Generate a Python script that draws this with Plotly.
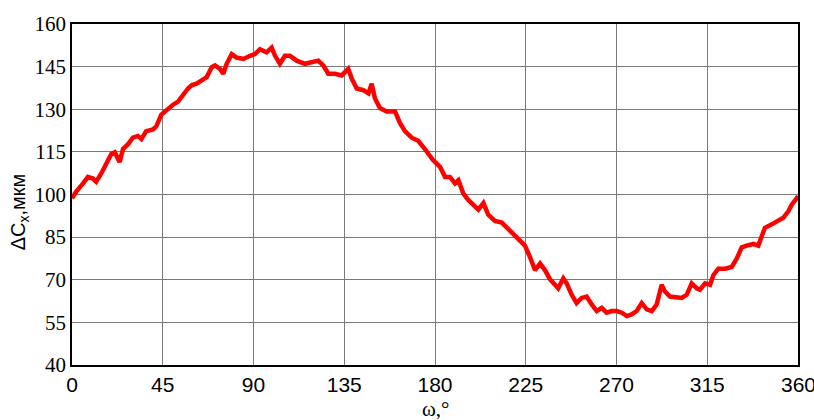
import plotly.graph_objects as go

omega_deg = [0, 2.1, 5.5, 7.9, 10.4, 12, 14.5, 17, 19.5, 21.2, 23.6, 25.3, 27.8, 30.2, 32.7, 34.4,
             36.8, 40.2, 41.8, 44.3, 46.8, 50.1, 52.6, 55, 57.5, 59.5, 61.8, 64.3, 66.8, 69.3, 70.9,
             73.4, 75, 76.7, 79.2, 81.6, 85, 88.3, 90.7, 93.2, 96.5, 99, 100.7, 103.1, 105.6, 108.1,
             111.4, 115.5, 118, 122.1, 124.6, 127.1, 130.4, 133.7, 137, 138.7, 141.2, 144.5, 147,
             148.6, 150.2, 152.7, 156, 160.2, 162.6, 165.1, 168.4, 171.7, 175, 178.8, 182.5, 185,
             187.4, 189.9, 191.6, 194, 196.5, 199, 201.5, 204, 206.4, 209.7, 213.1, 216.4, 219.7,
             222.1, 224.6, 227.1, 229.6, 232.1, 234.5, 237, 239.5, 241.1, 243.6, 245.3, 247.8,
             250.2, 252.7, 255.2, 257.7, 260.2, 262.7, 265.1, 267.6, 270.1, 272.6, 275.1, 277.5,
             280, 282.5, 285, 287.5, 289.9, 292.4, 294, 296.5, 299.8, 302.3, 304.8, 307.3, 309.8,
             311.4, 313.9, 316.4, 318, 320.5, 323.8, 327.1, 329.6, 332.1, 334.6, 337.8, 340.3, 342,
             343.6, 347, 350.2, 352.7, 355.2, 356.9, 359.4, 360]
delta_cx = [98.7, 101.0, 103.9, 106.2, 105.6, 104.5, 107.4, 110.8, 114.3, 114.9, 111.4, 116, 117.7,
            120, 120.6, 119.5, 122.3, 122.9, 124, 128.1, 129.8, 131.6, 132.7, 135, 137.3, 138.5,
            139, 140.2, 141.3, 144.8, 145.4, 144.2, 142.5, 146, 149.4, 148.2, 147.7, 148.8, 149.4,
            151.1, 150, 151.7, 148.8, 146, 148.8, 148.8, 147.1, 146, 146.5, 147.1, 145.4, 142.5,
            142.5, 141.9, 144.2, 140.8, 137.3, 136.7, 135.6, 139, 133.9, 130.4, 129.2, 129.2,
            125.2, 122.3, 120, 118.9, 116, 112.3, 109.7, 106.2, 106.2, 103.9, 105, 100.4, 98.1,
            96.4, 94.7, 97, 92.9, 90.7, 90.1, 87.8, 85.5, 83.7, 82, 78, 73.4, 75.7, 73.4, 70.2,
            68.2, 67, 70.5, 68.7, 64.7, 61.8, 63.6, 64.1, 61.3, 59, 60.1, 58.4, 59, 59, 58.4, 57.2,
            57.8, 59, 61.8, 59.6, 59, 61.3, 68.2, 65.9, 64.1, 63.6, 63.6, 64.7, 68.7, 67, 66.5,
            68.7, 68.2, 71.6, 73.9, 73.9, 74.5, 77.4, 81.4, 82, 82.6, 82, 85.5, 88.3, 89.5, 90.7,
            91.8, 94.1, 96.4, 98.7, 99.5]

x_ticks = [0, 45, 90, 135, 180, 225, 270, 315, 360]
y_ticks = [40, 55, 70, 85, 100, 115, 130, 145, 160]

SANS = "Liberation Sans, Arial, sans-serif"
SERIF = "Times New Roman, Liberation Serif, serif"

fig = go.Figure()
fig.add_trace(go.Scatter(x=omega_deg, y=delta_cx, mode="lines",
                         line=dict(color="#ff0000", width=4.5), showlegend=False))

annotations = [
    dict(text="ΔC<sub>x</sub>,мкм", xref="paper", yref="paper", x=-0.072, y=0.45,
         textangle=-90, showarrow=False, xanchor="center", yanchor="middle",
         font=dict(family=SANS, size=20, color="black")),
    dict(text="ω,°", xref="paper", yref="paper", x=0.5, y=-0.088,
         showarrow=False, xanchor="center", yanchor="top",
         font=dict(family=SERIF, size=21, color="black")),
]
# last x tick label (plotly hides it because it runs past the page edge)
annotations.append(dict(text=str(x_ticks[-1]), xref="x", yref="paper", x=x_ticks[-1], y=-0.018,
                        showarrow=False, xanchor="center", yanchor="top",
                        font=dict(family=SANS, size=21, color="black")))

fig.update_layout(
    width=814, height=420,
    margin=dict(l=72, r=16, t=18, b=55),
    paper_bgcolor="white", plot_bgcolor="white",
    xaxis=dict(range=[0, 360], tickvals=x_ticks[:-1], ticktext=[str(v) for v in x_ticks[:-1]],
               showgrid=True, gridcolor="#7a7a7a", gridwidth=1, zeroline=False,
               showline=True, linecolor="black", linewidth=1.5, mirror=True, ticks="",
               tickfont=dict(family=SANS, size=21, color="black")),
    yaxis=dict(range=[40, 160], tickvals=y_ticks, ticktext=[str(v) for v in y_ticks],
               showgrid=True, gridcolor="#7a7a7a", gridwidth=1, zeroline=False,
               showline=True, linecolor="black", linewidth=1.5, mirror=True, ticks="",
               tickfont=dict(family=SERIF, size=21, color="black")),
    annotations=annotations,
)

fig.write_html("out.html")
